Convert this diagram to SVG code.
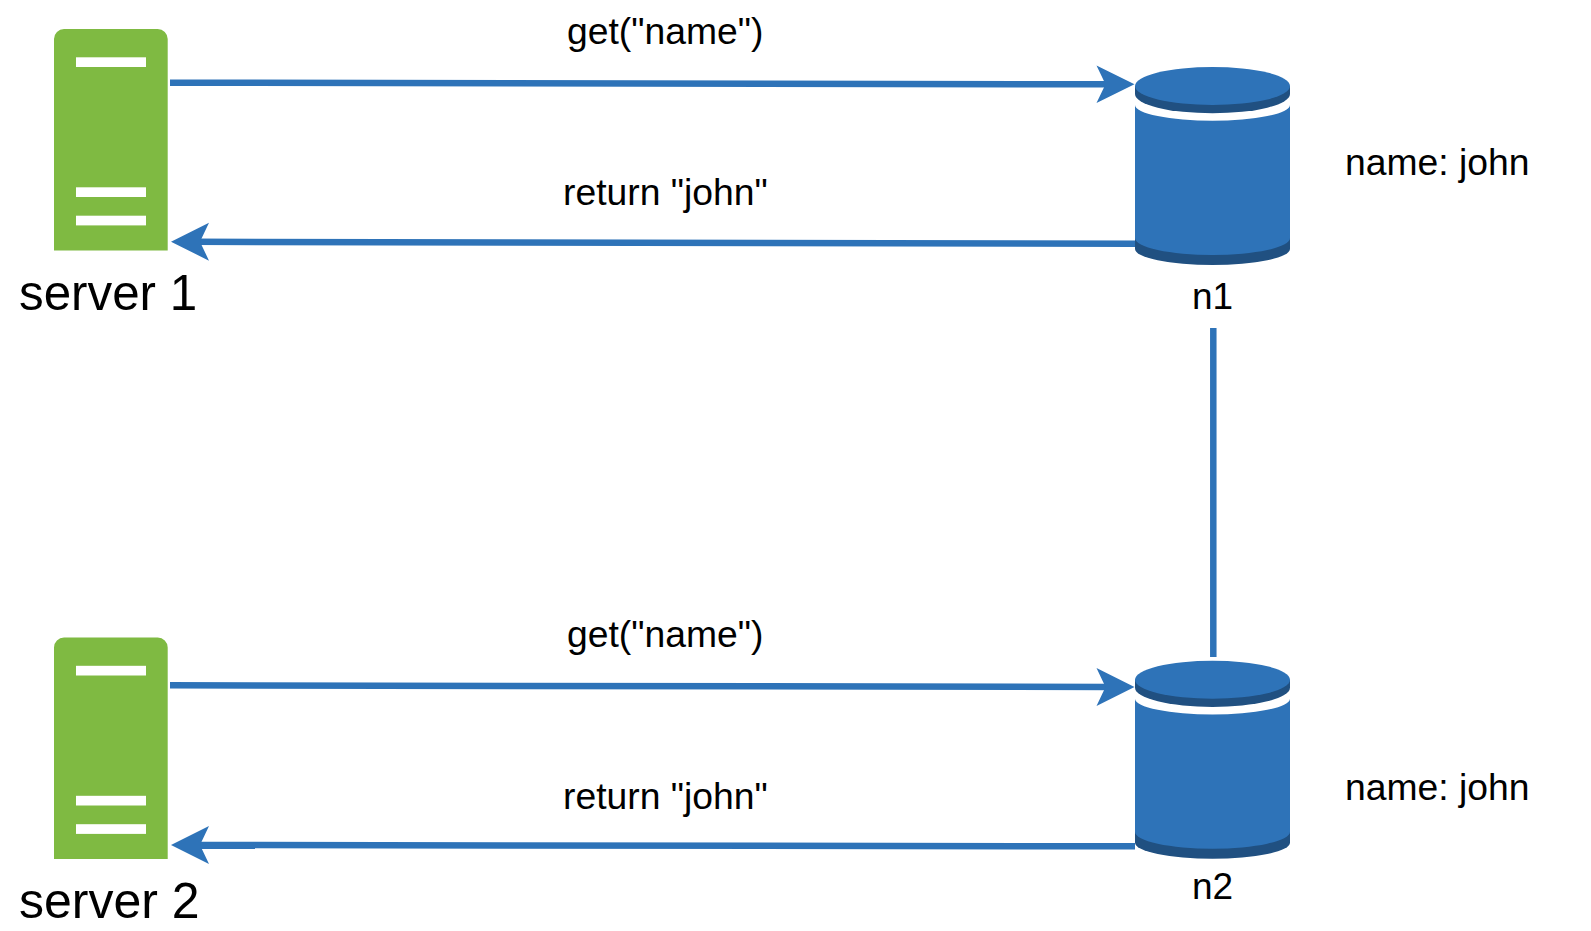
<svg xmlns="http://www.w3.org/2000/svg" width="1591" height="931" viewBox="0 0 1591 931">
<style>
text{font-family:"Liberation Sans",Arial,sans-serif;fill:#000;font-size:37.3px}
.big{font-size:50px}
.big1{font-size:49.300px}
.nd{font-size:37px}
.sv{fill:#7FBA42}
.bar{fill:#fff}
.b{fill:#2E73B8}
.d{fill:#205081}
.ln{stroke:#2E73B8;stroke-width:6.5;fill:none}
.head{fill:#2E73B8}
</style>
<rect width="1591" height="931" fill="#fff"/>
<defs>
<g id="server">
<path class="sv" d="M54 250.5V39a10 10 0 0 1 10-10h93.700a10 10 0 0 1 10 10V250.500Z"/>
<rect class="bar" x="76" y="57.300" width="70" height="9.700"/>
<rect class="bar" x="76" y="187.300" width="70" height="9.700"/>
<rect class="bar" x="76" y="215.700" width="70" height="9.700"/>
</g>
<g id="cyl">
<path class="d" d="M1135 238V249A77.500 16 0 0 0 1290 249V238Z"/>
<path class="b" d="M1135 105A77.500 15.700 0 0 0 1290 105V238A77.500 17 0 0 1 1135 238Z"/>
<path class="d" d="M1135 86V94A77.500 19.300 0 0 0 1290 94V86Z"/>
<ellipse class="b" cx="1212.500" cy="86" rx="77.500" ry="19"/>
</g>
</defs>
<g id="connectors">
<path class="ln" d="M170 82.700L1112 84.300"/>
<path class="head" d="M1134.500 84.300L1096.500 103L1105.500 84.300L1096.500 65.500Z"/>
<path class="ln" d="M1135 243.800L195 241.800"/>
<path class="head" d="M171 241.700L209 222.700L200 241.700L209 260.700Z"/>
<path class="ln" d="M1213.300 328V657"/>
<path class="ln" d="M170 685.300L1112 687"/>
<path class="head" d="M1134.500 687L1096.500 706L1105.500 687L1096.500 668Z"/>
<path class="ln" d="M1135 846.300L195 845"/>
<path class="head" d="M171 845L209 826L200 845L209 864Z"/>
</g>
<g id="server-1"><use href="#server"/><text class="big1" x="19" y="310">server 1</text></g>
<g id="server-2"><use href="#server" y="608.500"/><text class="big" x="19" y="918">server 2</text></g>
<g id="n1"><use href="#cyl"/><text class="nd" x="1192" y="309">n1</text></g>
<g id="n2"><use href="#cyl" y="593.700"/><text class="nd" x="1192" y="899">n2</text></g>
<text id="l1" x="567" y="43.500">get("name")</text>
<text id="l2" x="563" y="205">return "john"</text>
<text id="l3" x="567" y="646.500">get("name")</text>
<text id="l4" x="563" y="809">return "john"</text>
<text id="l5" x="1345" y="175">name: john</text>
<text id="l6" x="1345" y="800">name: john</text>
</svg>
